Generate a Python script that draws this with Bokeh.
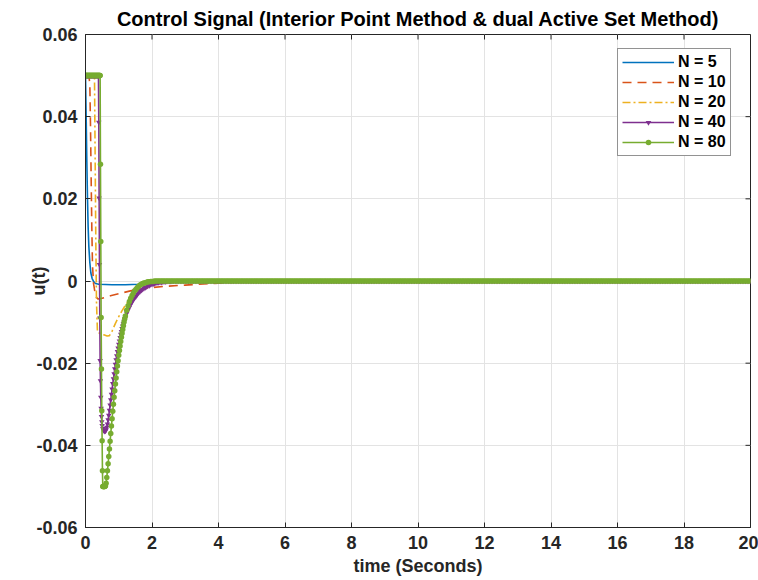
import numpy as np
from bokeh.plotting import figure
from bokeh.models import FixedTicker, Legend, Title
from bokeh.embed import file_html
from bokeh.resources import INLINE

# ---------------------------------------------------------------- data
U_MAX = 0.05  # upper input limit the controller saturates at

# N = 5
t_n5 = [0.0, 0.02, 0.04, 0.06, 0.08, 0.10, 0.13, 0.16, 0.20, 0.25, 0.30, 0.40,
        0.80, 1.20, 1.60, 1.80, 2.00, 2.30, 2.60, 20.0]
u_n5 = [0.05, 0.040, 0.029, 0.020, 0.013, 0.0085, 0.0045, 0.0020, 0.0006, -0.0002,
        -0.0006, -0.0008, -0.0009, -0.0009, -0.0008, -0.0007, -0.0004, -0.0001, 0.0, 0.0]

# N = 10
t_n10 = [0.0, 0.05, 0.10, 0.13, 0.15, 0.17, 0.19, 0.21, 0.24, 0.28, 0.33, 0.38, 0.50,
         0.75, 1.00, 1.35, 1.70, 2.00, 2.40, 2.80, 3.00, 3.40, 3.80, 4.50, 6.00, 20.0]
u_n10 = [0.05, 0.05, 0.05, 0.048, 0.038, 0.025, 0.013, 0.004, -0.0005, -0.0025, -0.0040,
         -0.0044, -0.0042, -0.0036, -0.0031, -0.0024, -0.0019, -0.0016, -0.0013, -0.0011,
         -0.0010, -0.0008, -0.0006, -0.0003, 0.0, 0.0]

# N = 20
t_n20 = [0.0, 0.27, 0.29, 0.31, 0.33, 0.36, 0.45, 0.55, 0.65, 0.72, 0.80, 0.90, 1.00,
         1.10, 1.20, 1.35, 1.50, 1.70, 2.00, 2.30, 2.60, 3.00, 20.0]
u_n20 = [0.05, 0.05, 0.030, 0.010, -0.005, -0.0125, -0.0128, -0.0131, -0.0134, -0.0133,
         -0.0122, -0.0103, -0.0087, -0.0072, -0.0059, -0.0043, -0.0031, -0.0019, -0.0009,
         -0.0004, -0.0002, -0.0001, 0.0]

# N = 40 (sampled every step, drawn with markers)
t40_hold = np.arange(0.0, 0.395, 0.01)
t40_move = [0.40, 0.41, 0.42, 0.43, 0.44, 0.45, 0.46, 0.47, 0.48, 0.49, 0.50,
            0.52, 0.54, 0.56, 0.58, 0.60, 0.62, 0.64, 0.66, 0.68, 0.70, 0.72, 0.74,
            0.76, 0.78, 0.80, 0.82, 0.84, 0.86, 0.88, 0.90, 0.92, 0.94, 0.96, 0.98,
            1.00, 1.02, 1.04, 1.06, 1.08, 1.10, 1.12, 1.14, 1.16, 1.18, 1.20,
            1.24, 1.28, 1.32, 1.36, 1.40, 1.44, 1.48, 1.52, 1.56, 1.60, 1.64, 1.68,
            1.72, 1.76, 1.80, 1.84, 1.88, 1.92, 1.96, 2.00, 2.04, 2.08, 2.12, 2.16,
            2.20, 2.24, 2.28, 2.32, 2.36, 2.40, 2.44, 2.48, 2.52, 2.56, 2.60]
u40_move = [0.0386, 0.0202, 0.0040, -0.0090, -0.0194, -0.0243, -0.0283, -0.0310, -0.0330,
            -0.0343, -0.0352,
            -0.0359, -0.0363, -0.0365, -0.0366, -0.0365, -0.0362, -0.0356, -0.0348, -0.0338,
            -0.0327, -0.0315, -0.0302, -0.0289, -0.0276, -0.0263, -0.0250, -0.0238, -0.0226,
            -0.0214, -0.0203, -0.0192, -0.0182, -0.0172, -0.0163, -0.0154, -0.0146, -0.0138,
            -0.0130, -0.0123, -0.0116, -0.0110, -0.0104, -0.0098, -0.0093, -0.0088,
            -0.0079, -0.0071, -0.0064, -0.0057, -0.0051, -0.0046, -0.0041, -0.0037, -0.0033,
            -0.0029, -0.0026, -0.0023, -0.0020, -0.0018, -0.0016, -0.0014, -0.0012, -0.0011,
            -0.0009, -0.0008, -0.0007, -0.0006, -0.0005, -0.0004, -0.0004, -0.0003, -0.0003,
            -0.0002, -0.0002, -0.0002, -0.0001, -0.0001, -0.0001, -0.0001, -0.0001]
t40_tail = np.arange(2.65, 20.001, 0.05)

# N = 80 (sampled every step, drawn with markers)
t80_hold = np.arange(0.0, 0.445, 0.01)
t80_move = [0.45, 0.46, 0.47, 0.48, 0.49, 0.50, 0.51, 0.52,
            0.53, 0.54, 0.55, 0.56, 0.57, 0.58,
            0.60, 0.62, 0.64, 0.66, 0.68, 0.70, 0.72, 0.74, 0.76, 0.78, 0.80, 0.82,
            0.84, 0.86, 0.88, 0.90, 0.92, 0.94, 0.96, 0.98, 1.00, 1.02, 1.04, 1.06,
            1.08, 1.10, 1.12, 1.14, 1.16, 1.18, 1.20,
            1.24, 1.28, 1.32, 1.36, 1.40, 1.44, 1.48, 1.52, 1.56, 1.60, 1.64, 1.68,
            1.72, 1.76, 1.80, 1.84, 1.88, 1.92, 1.96, 2.00, 2.04]
u80_move = [0.0284, 0.0096, -0.0089, -0.0214, -0.0316, -0.0389, -0.0462, -0.0500,
            -0.0500, -0.0500, -0.0500, -0.0500, -0.0500, -0.0500,
            -0.0499, -0.0492, -0.0478, -0.0462, -0.0445, -0.0427, -0.0409, -0.0390,
            -0.0371, -0.0353, -0.0335, -0.0317, -0.0300, -0.0283, -0.0267, -0.0251,
            -0.0236, -0.0221, -0.0207, -0.0194, -0.0181, -0.0169, -0.0158, -0.0147,
            -0.0137, -0.0127, -0.0118, -0.0109, -0.0100, -0.0092, -0.0085,
            -0.0071, -0.0060, -0.0050, -0.0042, -0.0035, -0.0029, -0.0024, -0.0020,
            -0.0016, -0.0013, -0.0010, -0.0008, -0.0006, -0.0005, -0.0004, -0.0003,
            -0.0002, -0.0002, -0.0001, -0.0001, -0.0001]
t80_tail = np.arange(2.08, 20.001, 0.05)

x_ticks = [0, 2, 4, 6, 8, 10, 12, 14, 16, 18, 20]
y_ticks = [-0.06, -0.04, -0.02, 0.0, 0.02, 0.04, 0.06]
y_tick_labels = ["-0.06", "-0.04", "-0.02", "0", "0.02", "0.04", "0.06"]

# assemble the sampled horizons
t_n40 = np.concatenate([t40_hold, t40_move, t40_tail])
u_n40 = np.concatenate([np.full(len(t40_hold), U_MAX), u40_move, np.zeros(len(t40_tail))])
t_n80 = np.concatenate([t80_hold, t80_move, t80_tail])
u_n80 = np.concatenate([np.full(len(t80_hold), U_MAX), u80_move, np.zeros(len(t80_tail))])

# ---------------------------------------------------------------- style
FONT = "Liberation Sans"
INK = "#262626"
C5, C10, C20, C40, C80 = "#0072BD", "#D95319", "#EDB120", "#7E2F8E", "#77AC30"

X_RANGE = (0, 20)
Y_RANGE = (-0.06, 0.06)
FRAME_W, FRAME_H = 665, 493
TICK_LEN = 5  # px, ticks point into the box

p = figure(
    frame_width=FRAME_W, frame_height=FRAME_H,
    x_range=X_RANGE, y_range=Y_RANGE,
    output_backend="svg", toolbar_location=None,
    min_border_left=85, min_border_right=8, min_border_top=34, min_border_bottom=53,
    background_fill_color="white", border_fill_color="white",
)
p.outline_line_color = INK
p.outline_line_width = 1

p.title.text = "Control Signal (Interior Point Method & dual Active Set Method)"
p.title.align = "center"
p.title.text_font = FONT
p.title.text_font_size = "20px"
p.title.text_font_style = "bold"
p.title.text_color = "black"
p.title.offset = 0

for ax in (p.xaxis[0], p.yaxis[0]):
    ax.axis_line_color = INK
    ax.major_tick_line_color = INK
    ax.major_tick_in = TICK_LEN
    ax.major_tick_out = 0
    ax.minor_tick_line_color = None
    ax.major_label_text_font = FONT
    ax.major_label_text_font_size = "18px"
    ax.major_label_text_font_style = "bold"
    ax.major_label_text_color = INK
    ax.axis_label_text_font = FONT
    ax.axis_label_text_font_size = "18px"
    ax.axis_label_text_font_style = "bold"
    ax.axis_label_text_color = INK

p.xaxis.ticker = FixedTicker(ticks=x_ticks)
p.yaxis.ticker = FixedTicker(ticks=y_ticks)
p.yaxis.major_label_overrides = dict(zip(y_ticks, y_tick_labels))
p.yaxis.axis_label = "u(t)"
p.xaxis.major_label_standoff = 8
p.yaxis.major_label_standoff = 8
p.yaxis.axis_label_standoff = -16

# x-axis title, set as a caption under the tick labels
p.add_layout(Title(
    text="time (Seconds)", align="center", standoff=4, offset=0,
    text_font=FONT, text_font_size="18px", text_font_style="bold", text_color=INK,
), "below")

p.xgrid.ticker = FixedTicker(ticks=x_ticks)
p.ygrid.ticker = FixedTicker(ticks=y_ticks)
p.grid.grid_line_color = "#e3e3e3"
p.grid.grid_line_width = 1

# mirrored inward ticks on the top and right edges of the box
dy_tick = TICK_LEN * (Y_RANGE[1] - Y_RANGE[0]) / FRAME_H
dx_tick = TICK_LEN * (X_RANGE[1] - X_RANGE[0]) / FRAME_W
p.segment(x0=x_ticks, y0=[Y_RANGE[1]] * len(x_ticks),
          x1=x_ticks, y1=[Y_RANGE[1] - dy_tick] * len(x_ticks),
          line_color=INK, line_width=1)
p.segment(x0=[X_RANGE[1]] * len(y_ticks), y0=y_ticks,
          x1=[X_RANGE[1] - dx_tick] * len(y_ticks), y1=y_ticks,
          line_color=INK, line_width=1)

# ---------------------------------------------------------------- series
r5 = p.line(t_n5, u_n5, color=C5, line_width=1.6)
r10 = p.line(t_n10, u_n10, color=C10, line_width=1.6, line_dash="9 6")
r20 = p.line(t_n20, u_n20, color=C20, line_width=1.6, line_dash="8 3 2 3")
r40l = p.line(t_n40, u_n40, color=C40, line_width=1.6)
r40m = p.scatter(t_n40, u_n40, marker="inverted_triangle", size=5.5,
                 fill_color=C40, line_color=None)
r80l = p.line(t_n80, u_n80, color=C80, line_width=1.6)
r80m = p.scatter(t_n80, u_n80, marker="circle", size=5.5,
                 fill_color=C80, line_color=None)

legend = Legend(
    items=[("N = 5", [r5]), ("N = 10", [r10]), ("N = 20", [r20]),
           ("N = 40", [r40l, r40m]), ("N = 80", [r80l, r80m])],
    location=(532, 371),
    border_line_color=INK, border_line_width=1,
    background_fill_color="white", background_fill_alpha=1,
    label_text_font=FONT, label_text_font_size="16px", label_text_font_style="bold",
    label_text_color="black",
    padding=4, spacing=2, glyph_width=52, glyph_height=14, label_height=18,
    label_standoff=4, margin=0,
)
p.add_layout(legend, "center")

open("out.html", "w").write(file_html(p, INLINE))
